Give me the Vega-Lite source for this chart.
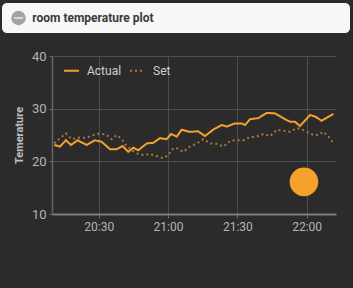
{
  "$schema": "https://vega.github.io/schema/vega-lite/v6.json",
  "background": "#2b2b2b",
  "padding": {"left": 2, "top": 3, "right": 3, "bottom": 56},
  "spacing": 17,
  "config": {
    "font": "Roboto",
    "view": {"stroke": null}
  },
  "vconcat": [
    {
      "width": 348,
      "height": 30,
      "view": {"fill": "#f7f7f7", "stroke": null, "cornerRadius": 5},
      "data": {"values": [{"label": "room temperature plot"}]},
      "layer": [
        {
          "mark": {"type": "point", "shape": "circle", "filled": true, "color": "#a3a3a3", "opacity": 1, "size": 210},
          "encoding": {
            "x": {"datum": 0.0474, "type": "quantitative", "scale": {"domain": [0, 1]}, "axis": null},
            "y": {"datum": 0.5, "type": "quantitative", "scale": {"domain": [0, 1]}, "axis": null}
          }
        },
        {
          "mark": {"type": "point", "shape": "M -1 -0.13 L 1 -0.13 L 1 0.13 L -1 0.13 Z", "filled": true, "color": "#ffffff", "opacity": 1, "size": 80},
          "encoding": {
            "x": {"datum": 0.0474, "type": "quantitative", "scale": {"domain": [0, 1]}, "axis": null},
            "y": {"datum": 0.5, "type": "quantitative", "scale": {"domain": [0, 1]}, "axis": null}
          }
        },
        {
          "mark": {"type": "text", "align": "left", "baseline": "middle", "fontWeight": "bold", "fontSize": 12, "color": "#3a3a3a"},
          "encoding": {
            "x": {"datum": 0.087, "type": "quantitative", "scale": {"domain": [0, 1]}, "axis": null},
            "y": {"datum": 0.5, "type": "quantitative", "scale": {"domain": [0, 1]}, "axis": null},
            "text": {"field": "label"}
          }
        }
      ]
    },
    {
      "width": 348,
      "height": 158,
      "layer": [
        {
          "data": {"values": [
            {"time": "2024-01-01T20:10:48", "series": "Actual", "temp": 23.1},
            {"time": "2024-01-01T20:13:15", "series": "Actual", "temp": 22.8},
            {"time": "2024-01-01T20:15:48", "series": "Actual", "temp": 24.0},
            {"time": "2024-01-01T20:18:00", "series": "Actual", "temp": 23.1},
            {"time": "2024-01-01T20:20:54", "series": "Actual", "temp": 24.0},
            {"time": "2024-01-01T20:24:48", "series": "Actual", "temp": 23.1},
            {"time": "2024-01-01T20:28:24", "series": "Actual", "temp": 24.0},
            {"time": "2024-01-01T20:31:18", "series": "Actual", "temp": 23.7},
            {"time": "2024-01-01T20:34:54", "series": "Actual", "temp": 22.3},
            {"time": "2024-01-01T20:37:48", "series": "Actual", "temp": 22.3},
            {"time": "2024-01-01T20:40:24", "series": "Actual", "temp": 22.9},
            {"time": "2024-01-01T20:42:48", "series": "Actual", "temp": 21.8},
            {"time": "2024-01-01T20:45:00", "series": "Actual", "temp": 22.6},
            {"time": "2024-01-01T20:47:06", "series": "Actual", "temp": 22.1},
            {"time": "2024-01-01T20:50:48", "series": "Actual", "temp": 23.4},
            {"time": "2024-01-01T20:53:36", "series": "Actual", "temp": 23.5},
            {"time": "2024-01-01T20:56:30", "series": "Actual", "temp": 24.4},
            {"time": "2024-01-01T20:59:24", "series": "Actual", "temp": 24.2},
            {"time": "2024-01-01T21:01:18", "series": "Actual", "temp": 25.2},
            {"time": "2024-01-01T21:03:48", "series": "Actual", "temp": 24.7},
            {"time": "2024-01-01T21:05:54", "series": "Actual", "temp": 26.0},
            {"time": "2024-01-01T21:09:30", "series": "Actual", "temp": 25.6},
            {"time": "2024-01-01T21:13:00", "series": "Actual", "temp": 25.7},
            {"time": "2024-01-01T21:16:00", "series": "Actual", "temp": 24.8},
            {"time": "2024-01-01T21:19:30", "series": "Actual", "temp": 26.0},
            {"time": "2024-01-01T21:23:12", "series": "Actual", "temp": 26.9},
            {"time": "2024-01-01T21:25:24", "series": "Actual", "temp": 26.6},
            {"time": "2024-01-01T21:29:00", "series": "Actual", "temp": 27.2},
            {"time": "2024-01-01T21:31:54", "series": "Actual", "temp": 27.2},
            {"time": "2024-01-01T21:33:18", "series": "Actual", "temp": 26.9},
            {"time": "2024-01-01T21:35:30", "series": "Actual", "temp": 28.0},
            {"time": "2024-01-01T21:39:06", "series": "Actual", "temp": 28.2},
            {"time": "2024-01-01T21:42:42", "series": "Actual", "temp": 29.2},
            {"time": "2024-01-01T21:46:18", "series": "Actual", "temp": 29.1},
            {"time": "2024-01-01T21:49:54", "series": "Actual", "temp": 28.2},
            {"time": "2024-01-01T21:52:48", "series": "Actual", "temp": 27.5},
            {"time": "2024-01-01T21:55:00", "series": "Actual", "temp": 27.5},
            {"time": "2024-01-01T21:57:06", "series": "Actual", "temp": 26.7},
            {"time": "2024-01-01T22:01:30", "series": "Actual", "temp": 28.8},
            {"time": "2024-01-01T22:03:42", "series": "Actual", "temp": 28.5},
            {"time": "2024-01-01T22:06:30", "series": "Actual", "temp": 27.7},
            {"time": "2024-01-01T22:11:36", "series": "Actual", "temp": 29.0},
            {"time": "2024-01-01T20:10:48", "series": "Set", "temp": 23.4},
            {"time": "2024-01-01T20:13:15", "series": "Set", "temp": 24.4},
            {"time": "2024-01-01T20:15:48", "series": "Set", "temp": 25.3},
            {"time": "2024-01-01T20:18:18", "series": "Set", "temp": 24.2},
            {"time": "2024-01-01T20:21:12", "series": "Set", "temp": 24.5},
            {"time": "2024-01-01T20:24:48", "series": "Set", "temp": 24.5},
            {"time": "2024-01-01T20:27:42", "series": "Set", "temp": 25.0},
            {"time": "2024-01-01T20:30:36", "series": "Set", "temp": 25.3},
            {"time": "2024-01-01T20:33:30", "series": "Set", "temp": 25.0},
            {"time": "2024-01-01T20:35:36", "series": "Set", "temp": 24.2},
            {"time": "2024-01-01T20:37:48", "series": "Set", "temp": 25.0},
            {"time": "2024-01-01T20:40:00", "series": "Set", "temp": 24.2},
            {"time": "2024-01-01T20:42:06", "series": "Set", "temp": 22.9},
            {"time": "2024-01-01T20:44:18", "series": "Set", "temp": 22.1},
            {"time": "2024-01-01T20:46:30", "series": "Set", "temp": 21.5},
            {"time": "2024-01-01T20:49:18", "series": "Set", "temp": 21.2},
            {"time": "2024-01-01T20:52:12", "series": "Set", "temp": 21.4},
            {"time": "2024-01-01T20:55:06", "series": "Set", "temp": 21.0},
            {"time": "2024-01-01T20:58:00", "series": "Set", "temp": 20.6},
            {"time": "2024-01-01T21:00:06", "series": "Set", "temp": 21.2},
            {"time": "2024-01-01T21:02:18", "series": "Set", "temp": 22.5},
            {"time": "2024-01-01T21:03:48", "series": "Set", "temp": 22.5},
            {"time": "2024-01-01T21:06:36", "series": "Set", "temp": 21.8},
            {"time": "2024-01-01T21:09:30", "series": "Set", "temp": 22.8},
            {"time": "2024-01-01T21:12:24", "series": "Set", "temp": 23.4},
            {"time": "2024-01-01T21:15:18", "series": "Set", "temp": 24.2},
            {"time": "2024-01-01T21:18:12", "series": "Set", "temp": 23.4},
            {"time": "2024-01-01T21:21:06", "series": "Set", "temp": 23.3},
            {"time": "2024-01-01T21:24:00", "series": "Set", "temp": 22.8},
            {"time": "2024-01-01T21:26:54", "series": "Set", "temp": 23.9},
            {"time": "2024-01-01T21:29:42", "series": "Set", "temp": 24.0},
            {"time": "2024-01-01T21:32:36", "series": "Set", "temp": 24.0},
            {"time": "2024-01-01T21:35:30", "series": "Set", "temp": 24.6},
            {"time": "2024-01-01T21:38:24", "series": "Set", "temp": 24.7},
            {"time": "2024-01-01T21:41:18", "series": "Set", "temp": 25.2},
            {"time": "2024-01-01T21:44:12", "series": "Set", "temp": 24.8},
            {"time": "2024-01-01T21:47:06", "series": "Set", "temp": 26.0},
            {"time": "2024-01-01T21:49:54", "series": "Set", "temp": 25.8},
            {"time": "2024-01-01T21:52:48", "series": "Set", "temp": 25.6},
            {"time": "2024-01-01T21:55:42", "series": "Set", "temp": 26.3},
            {"time": "2024-01-01T21:57:54", "series": "Set", "temp": 26.1},
            {"time": "2024-01-01T22:00:06", "series": "Set", "temp": 25.6},
            {"time": "2024-01-01T22:02:54", "series": "Set", "temp": 25.0},
            {"time": "2024-01-01T22:05:06", "series": "Set", "temp": 25.0},
            {"time": "2024-01-01T22:07:12", "series": "Set", "temp": 25.6},
            {"time": "2024-01-01T22:09:24", "series": "Set", "temp": 24.7},
            {"time": "2024-01-01T22:11:36", "series": "Set", "temp": 23.5}
          ]},
          "mark": {"type": "line", "strokeWidth": 2},
          "encoding": {
            "x": {
              "field": "time", "type": "temporal",
              "scale": {"domain": [{"year": 2024, "month": 1, "date": 1, "hours": 20, "minutes": 9, "seconds": 48}, {"year": 2024, "month": 1, "date": 1, "hours": 22, "minutes": 12, "seconds": 42}], "range": [50, 334]},
              "axis": {
                "title": null, "format": "%H:%M",
                "values": [
                  {"year": 2024, "month": 1, "date": 1, "hours": 20, "minutes": 30},
                  {"year": 2024, "month": 1, "date": 1, "hours": 21, "minutes": 0},
                  {"year": 2024, "month": 1, "date": 1, "hours": 21, "minutes": 30},
                  {"year": 2024, "month": 1, "date": 1, "hours": 22, "minutes": 0}
                ],
                "domainColor": "#7d7d7d", "domainWidth": 2,
                "gridColor": "#4d4d4d", "gridWidth": 1,
                "tickColor": "#6a6a6a", "tickSize": 4,
                "labelColor": "#b4b4b4", "labelFontSize": 12, "labelPadding": 3
              }
            },
            "y": {
              "field": "temp", "type": "quantitative",
              "scale": {"domain": [10, 40]},
              "axis": {
                "title": "Temerature", "values": [10, 20, 30, 40], "offset": -50,
                "titleColor": "#bdbdbd", "titleFontSize": 11, "titleFontWeight": "bold", "titlePadding": 7,
                "domainColor": "#666666", "domainWidth": 1.5,
                "gridColor": "#4d4d4d", "gridWidth": 1,
                "tickColor": "#6a6a6a", "tickSize": 3,
                "labelColor": "#b4b4b4", "labelFontSize": 13, "labelPadding": 3
              }
            },
            "color": {
              "field": "series", "type": "nominal",
              "scale": {"domain": ["Actual", "Set"], "range": ["#f6a12c", "#a87935"]},
              "legend": {
                "title": null, "orient": "none", "legendX": 61, "legendY": 59, "direction": "horizontal",
                "symbolType": "stroke", "symbolStrokeWidth": 2, "symbolSize": 225,
                "labelColor": "#cfcfcf", "labelFontSize": 12,
                "labelOffset": 7, "columnPadding": 4
              }
            },
            "strokeDash": {
              "field": "series", "type": "nominal",
              "scale": {"domain": ["Actual", "Set"], "range": [[1, 0], [2, 3]]},
              "legend": {
                "title": null, "orient": "none", "legendX": 61, "legendY": 59, "direction": "horizontal",
                "symbolType": "stroke", "symbolStrokeWidth": 2, "symbolSize": 225,
                "labelColor": "#cfcfcf", "labelFontSize": 12,
                "labelOffset": 7, "columnPadding": 4
              }
            }
          }
        },
        {
          "data": {"values": [{"time": "2024-01-01T21:58:50", "temp": 16.1}]},
          "mark": {"type": "point", "shape": "circle", "filled": true, "color": "#f6a12c", "opacity": 1, "size": 820},
          "encoding": {
            "x": {"field": "time", "type": "temporal"},
            "y": {"field": "temp", "type": "quantitative"}
          }
        }
      ]
    }
  ]
}
